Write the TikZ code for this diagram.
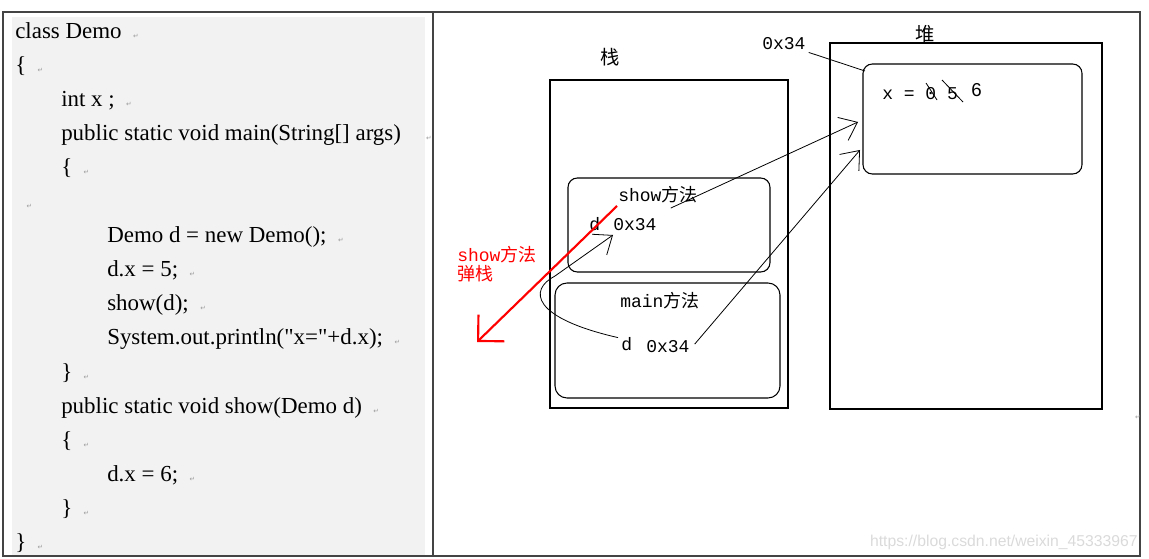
\documentclass[tikz,border=0pt]{standalone}
\usepackage{fontspec}
\setmainfont{Liberation Serif}[Ligatures=TeXOff]
\setmonofont{Liberation Mono}
\newfontfamily\cjkfont{Noto Sans CJK SC}
\newfontfamily\symfont{DejaVu Sans}
\newfontfamily\wmfont{Liberation Sans}
\usetikzlibrary{arrows.meta,positioning,calc}
\definecolor{codebg}{HTML}{F2F2F2}
\definecolor{rule}{HTML}{444444}
\definecolor{mark}{HTML}{9A9A9A}
\definecolor{popred}{HTML}{FF0000}
\definecolor{wmark}{HTML}{DADADA}
\newcommand{\zh}[1]{{\cjkfont #1}}
\newcommand{\ret}{\hspace{0.5em}{\symfont\fontsize{5}{5}\selectfont\color{mark}↵}}

\begin{document}
\begin{tikzpicture}[x=0.75pt, y=-0.75pt,
    code/.style={anchor=base west, inner sep=0pt, font=\fontsize{17.2}{20}\selectfont},
    mono/.style={anchor=base west, inner sep=0pt, font=\ttfamily\fontsize{13.5}{16}\selectfont},
    zhlbl/.style={inner sep=0pt, font=\cjkfont\fontsize{14.5}{16}\selectfont},
    frame/.style={draw, line width=1.1pt, inner sep=0pt},
    slot/.style={draw, line width=0.8pt, rounded corners=7pt, inner sep=0pt},
    ptr/.style={line width=0.6pt, -{Straight Barb[length=12pt, width=19pt]}}]
  \useasboundingbox (0,0) rectangle (1149,559);
  % table and code cell
  \fill[codebg] (12,17) rectangle (425,556);
  \draw[rule, line width=1pt] (3,12) rectangle (1140,556);
  \draw[rule, line width=1pt] (433,12) -- (433,556);
  % code lines
  \node[code] (l1)  at (15,39)  {class Demo\ret};
  \node[code] (l2)  at (15,73)  {\{\ret};
  \node[code] (l3)  at (61,107) {int x ;\ret};
  \node[code] (l4)  at (61,141) {public static void main(String[] args)\hspace{0.6em}\ret};
  \node[code] (l5)  at (61,175) {\{\ret};
  \node[code] (l6)  at (15,209) {\ret};
  \node[code] (l7)  at (107,243) {Demo d = new Demo();\ret};
  \node[code] (l8)  at (107,277) {d.x = 5;\ret};
  \node[code] (l9)  at (107,311) {show(d);\ret};
  \node[code] (l10) at (107,345) {System.out.println("x="+d.x);\ret};
  \node[code] (l11) at (61,379) {\}\ret};
  \node[code] (l12) at (61,413) {public static void show(Demo d)\ret};
  \node[code] (l13) at (61,447) {\{\ret};
  \node[code] (l14) at (107,481) {d.x = 6;\ret};
  \node[code] (l15) at (61,515) {\}\ret};
  \node[code] (l16) at (15,549) {\}\ret};
  % stack
  \node[zhlbl] (stacklbl) at (610,57) {栈};
  \node[frame, minimum width=178.5pt, minimum height=246pt] (stack) at (669,244) {};
  \node[slot, minimum width=151.5pt, minimum height=70.5pt] (showfr) at (669,225) {};
  \node[slot, rounded corners=9pt, minimum width=168.75pt, minimum height=86.25pt] (mainfr) at (667.5,340.5) {};
  \node[mono] (showlbl) at (618,202) {show\zh{方法}};
  \node[mono] (showd) at (589,231) {d};
  \node[mono] (showval) at (613,231) {0x34};
  \node[mono] (mainlbl) at (620,308) {main\zh{方法}};
  \node[mono] (maind) at (621,351) {d};
  \node[mono] (mainval) at (646,353) {0x34};
  % heap
  \node[zhlbl] (heaplbl) at (925,34) {堆};
  \node[frame, minimum width=204pt, minimum height=274.5pt] (heap) at (966,226) {};
  \node[slot, minimum width=164.25pt, minimum height=82.5pt] (obj) at (972.5,119) {};
  \node[mono] (field) at (882,100) {x = 0 5};
  \node[anchor=base west, inner sep=0pt, font=\wmfont\fontsize{14}{16}\selectfont] (newval) at (971,97) {6};
  \draw[line width=0.6pt] (926,83) -- (937,100);
  \draw[line width=0.6pt] (942,80) -- (963,102);
  \node[mono] (addr) at (762,50) {0x34};
  \coordinate (objcorner) at (865,71);
  \draw[line width=0.6pt] (addr.south east) ++(3,2) -- (objcorner);
  % references into the heap
  \coordinate (hitA) at (858,122);
  \coordinate (hitB) at (860,150);
  \coordinate (hitD) at (613,235);
  \draw[ptr] ($(showval.east)+(14,-17)$) -- (hitA);
  \draw[ptr] ($(mainval.east)+(5,-3)$) -- (hitB);
  \draw[ptr] ($(maind.west)+(-3,-7)$) .. controls (532,318) and (528,290) .. (555,276) -- (hitD);
  % popping show
  \node[mono, text=popred] (poplbl) at (457,262) {show\zh{方法}};
  \node[mono, text=popred] (poplbl2) at (457,281) {\zh{弹栈}};
  \coordinate (popend) at (477,342);
  \draw[popred, line width=1.6pt, -{Straight Barb[length=14pt, width=28pt]}] (617,206) -- (popend);
  % page marks
  \node[inner sep=0pt, font=\symfont\fontsize{5}{5}\selectfont, text=mark] (cellmark) at (1138,417) {↵};
  \node[anchor=base east, inner sep=0pt, font=\wmfont\fontsize{11.8}{13}\selectfont, text=wmark] (wm) at (1138,546) {https://blog.csdn.net/weixin\_45333967};
\end{tikzpicture}
\end{document}
